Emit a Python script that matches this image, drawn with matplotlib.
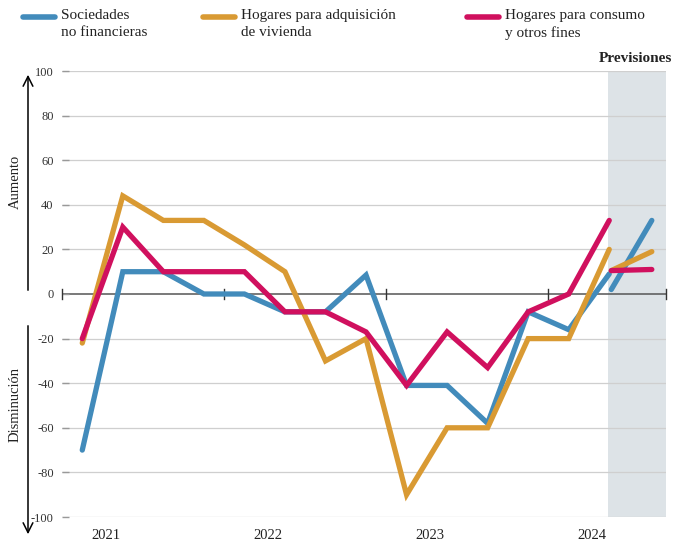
import matplotlib
matplotlib.use("Agg")
import matplotlib.pyplot as plt
from matplotlib.lines import Line2D

plt.rcParams['font.family'] = ['Liberation Serif', 'DejaVu Serif']

# ---- data ----
quarters = ["2021T1", "2021T2", "2021T3", "2021T4",
            "2022T1", "2022T2", "2022T3", "2022T4",
            "2023T1", "2023T2", "2023T3", "2023T4",
            "2024T1", "2024T2"]
forecast_quarters = ["2024T2", "2024T3"]
years = ["2021", "2022", "2023", "2024"]

sociedades = [-70, 10, 10, 0, 0, -8, -8, 8.5, -41, -41, -58, -8, -16, 9]
vivienda = [-22, 44, 33, 33, 22, 10, -30, -20, -90, -60, -60, -20, -20, 20]
consumo = [-20, 30, 10, 10, 10, -8, -8, -17, -41, -17, -33, -8, 0, 33]

sociedades_prev = [2, 33]
vivienda_prev = [10.5, 19]
consumo_prev = [10.5, 11]

series_names = ["Sociedades\nno financieras", "Hogares para adquisición\nde vivienda",
                "Hogares para consumo\ny otros fines"]
colors = ["#428bbb", "#d99a33", "#d0105e"]
yticks = [100, 80, 60, 40, 20, 0, -20, -40, -60, -80, -100]

# ---- figure ----
W, H = 684, 544
fig = plt.figure(figsize=(W / 100, H / 100), dpi=100)
ax = fig.add_axes([62 / W, (H - 517) / H, (666 - 62) / W, (517 - 71) / H])

xq = list(range(len(quarters)))
xf = [quarters.index(forecast_quarters[0]), quarters.index(forecast_quarters[0]) + 1]

ax.set_xlim(-0.5, 14.4)
ax.set_ylim(-100, 100)

# shading for forecasts
ax.axvspan(12.96, 14.4, color="#dde3e7", zorder=0, lw=0)

# grid
for v in yticks:
    if v == 0:
        ax.axhline(0, color="#555555", lw=1.1, zorder=1)
    else:
        ax.axhline(v, color="#cfcfcf", lw=0.9, zorder=1)
for xb in [-0.5, 3.5, 7.5, 11.5, 14.4]:
    ax.plot([xb, xb], [-2.2, 2.2], color="#333333", lw=1.0, zorder=2, clip_on=False)

lw = 3.8
for vals, prev, c in [(sociedades, sociedades_prev, colors[0]),
                      (vivienda, vivienda_prev, colors[1]),
                      (consumo, consumo_prev, colors[2])]:
    ax.plot(xq, vals, color=c, lw=lw, solid_capstyle="round",
            solid_joinstyle="miter", zorder=3, clip_on=False)
    ax.plot([x + 0.05 for x in xf], prev, color=c, lw=lw, solid_capstyle="round",
            solid_joinstyle="miter", zorder=4, clip_on=False)

for s in ax.spines.values():
    s.set_visible(False)
ax.set_xticks([])
ax.set_yticks(yticks)
ax.set_yticklabels([str(v) for v in yticks], fontsize=9, color="#333333")
ax.tick_params(axis="y", length=5, width=1, direction="in", color="#999999", pad=6)

# year labels
for i, y in enumerate(years):
    ax.text(i * 4 + 0.58, -105.5, y, ha="center", va="top", fontsize=10.5,
            color="#222222", clip_on=False)

# Previsiones
fig.text(672 / W, 1 - 58 / H, "Previsiones", ha="right", va="center",
         fontsize=11, fontweight="bold", color="#222222")

# arrows
fig.patches.append(matplotlib.patches.FancyArrowPatch(
    (28 / W, 1 - 293 / H), (28 / W, 1 - 72 / H), transform=fig.transFigure,
    arrowstyle="->,head_length=7,head_width=3.5", color="black", lw=1.1,
    mutation_scale=1))
fig.patches.append(matplotlib.patches.FancyArrowPatch(
    (28 / W, 1 - 323 / H), (28 / W, 1 - 537 / H), transform=fig.transFigure,
    arrowstyle="->,head_length=7,head_width=3.5", color="black", lw=1.1,
    mutation_scale=1))
fig.text(15 / W, 1 - 182 / H, "Aumento", rotation=90, ha="center", va="center",
         fontsize=10.5, color="#222222")
fig.text(15 / W, 1 - 405 / H, "Disminución", rotation=90, ha="center", va="center",
         fontsize=10.5, color="#222222")

# legend
leg_x = [23, 203, 467]
for lx, name, c in zip(leg_x, series_names, colors):
    fig.add_artist(Line2D([lx / W, (lx + 32) / W], [1 - 17 / H, 1 - 17 / H],
                          color=c, lw=4, solid_capstyle="round",
                          transform=fig.transFigure))
    fig.text((lx + 38) / W, 1 - 9 / H, name, ha="left", va="top", fontsize=11,
             color="#222222", linespacing=1.4)

fig.savefig("out.png", dpi=100)
